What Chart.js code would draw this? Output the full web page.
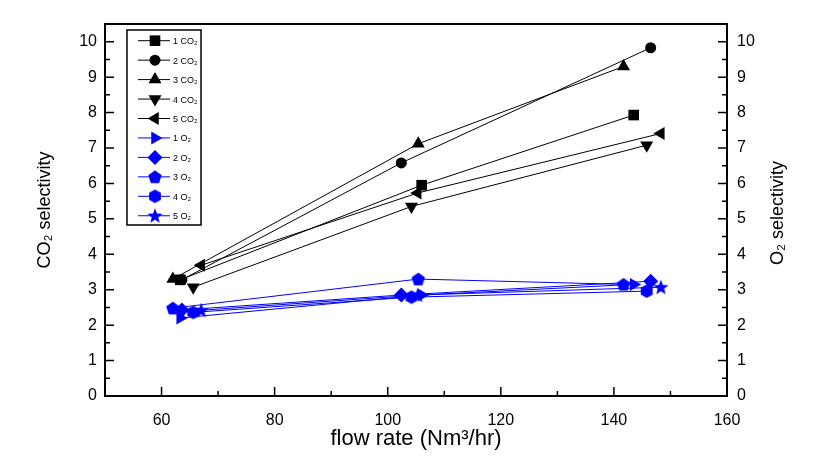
<!DOCTYPE html>
<html>
<head>
<meta charset="utf-8">
<script src="https://cdn.jsdelivr.net/npm/chart.js@4.4.0/dist/chart.umd.min.js"></script>
<style>
    body { margin: 0; background: #fff; }
    #wrap { width: 820px; height: 464px; }
</style>
</head>
<body>
<div id="wrap"><canvas id="grafik" width="820" height="464"></canvas></div>
<script>
// Data dari grafik (flow rate vs selectivity)
var seriesLabelsCO2 = ["1 CO₂", "2 CO₂", "3 CO₂", "4 CO₂", "5 CO₂"];
var seriesLabelsO2 = ["1 O₂", "2 O₂", "3 O₂", "4 O₂", "5 O₂"];

var flow1 = [63.3, 106.0, 143.5];
var flow2 = [63.6, 102.4, 146.5];
var flow3 = [62.0, 105.4, 141.7];
var flow4 = [65.6, 104.2, 145.8];
var flow5 = [67.0, 105.3, 148.3];

var co2Sel1 = [3.28, 5.95, 7.93];
var co2Sel2 = [3.28, 6.58, 9.83];
var co2Sel3 = [3.30, 7.12, 9.30];
var co2Sel4 = [3.07, 5.35, 7.08];
var co2Sel5 = [3.69, 5.73, 7.41];

var o2Sel1 = [2.20, 2.85, 3.15];
var o2Sel2 = [2.43, 2.85, 3.24];
var o2Sel3 = [2.48, 3.30, 3.15];
var o2Sel4 = [2.36, 2.79, 2.96];
var o2Sel5 = [2.42, 2.85, 3.07];

// Tick labels
var xTicks = [60, 80, 100, 120, 140, 160];
var xMinorTicks = [70, 90, 110, 130, 150];
var yTicks = [0, 1, 2, 3, 4, 5, 6, 7, 8, 9, 10];
var yMinorTicks = [0.5, 1.5, 2.5, 3.5, 4.5, 5.5, 6.5, 7.5, 8.5, 9.5];

var fontMain = "'Liberation Sans', Arial, sans-serif";
var fontTitleY = "'Liberation Sans Narrow', " + fontMain;
var rightTitle = "O₂ selectivity";
var blue = "#0000ff";

function toPoints(xs, ys) {
    return xs.map(function (x, i) { return { x: x, y: ys[i] }; });
}

// marker buatan sendiri (pentagon, hexagon, bintang)
function makeMarker(kind, color) {
    var c = document.createElement("canvas");
    c.width = 18;
    c.height = 18;
    var g = c.getContext("2d");
    g.fillStyle = color;
    g.beginPath();
    var i, a, r;
    if (kind === "pentagon") {
        for (i = 0; i < 5; i++) {
            a = -Math.PI / 2 + i * 2 * Math.PI / 5;
            g.lineTo(9 + 7 * Math.cos(a), 9.5 + 7 * Math.sin(a));
        }
    } else if (kind === "hexagon") {
        for (i = 0; i < 6; i++) {
            a = -Math.PI / 2 + i * Math.PI / 3;
            g.lineTo(9 + 6.8 * Math.cos(a), 9 + 6.8 * Math.sin(a));
        }
    } else {
        for (i = 0; i < 10; i++) {
            a = -Math.PI / 2 + i * Math.PI / 5;
            r = (i % 2 === 0) ? 8 : 3.4;
            g.lineTo(9 + r * Math.cos(a), 9.5 + r * Math.sin(a));
        }
    }
    g.closePath();
    g.fill();
    return c;
}

function makeSet(label, xs, ys, color, axis, style, radius, rotation) {
    return {
        label: label,
        data: toPoints(xs, ys),
        yAxisID: axis,
        borderColor: color,
        backgroundColor: color,
        borderWidth: 1,
        pointStyle: style,
        pointRadius: radius,
        pointRotation: rotation,
        pointBorderWidth: 0,
        pointBackgroundColor: color,
        pointBorderColor: color,
        showLine: true,
        tension: 0
    };
}

var datasets = [
    makeSet(seriesLabelsO2[0], flow1, o2Sel1, blue, "y2", "triangle", 7.5, 90),
    makeSet(seriesLabelsO2[1], flow2, o2Sel2, blue, "y2", "rectRot", 7.5, 0),
    makeSet(seriesLabelsO2[2], flow3, o2Sel3, blue, "y2", makeMarker("pentagon", blue), 7, 0),
    makeSet(seriesLabelsO2[3], flow4, o2Sel4, blue, "y2", makeMarker("hexagon", blue), 7, 0),
    makeSet(seriesLabelsO2[4], flow5, o2Sel5, blue, "y2", makeMarker("star", blue), 8, 0),
    makeSet(seriesLabelsCO2[0], flow1, co2Sel1, "#000", "y", "rect", 7.5, 0),
    makeSet(seriesLabelsCO2[1], flow2, co2Sel2, "#000", "y", "circle", 5.5, 0),
    makeSet(seriesLabelsCO2[2], flow3, co2Sel3, "#000", "y", "triangle", 7.5, 0),
    makeSet(seriesLabelsCO2[3], flow4, co2Sel4, "#000", "y", "triangle", 7.5, 180),
    makeSet(seriesLabelsCO2[4], flow5, co2Sel5, "#000", "y", "triangle", 7.5, -90)
];

// urutan legenda: CO2 dulu, lalu O2
var legendOrder = [5, 6, 7, 8, 9, 0, 1, 2, 3, 4];

// Frame, tick ke dalam, judul kanan, dan legenda
var framePlugin = {
    id: "frameTicks",
    afterDraw: function (chart) {
        var ctx = chart.ctx;
        var a = chart.chartArea;
        var sx = chart.scales.x;
        var sy = chart.scales.y;
        ctx.save();
        ctx.strokeStyle = "#000";
        ctx.lineWidth = 2;
        ctx.strokeRect(a.left, a.top, a.right - a.left, a.bottom - a.top);

        ctx.lineWidth = 1.5;
        ctx.beginPath();
        xTicks.forEach(function (v) {
            var px = sx.getPixelForValue(v);
            ctx.moveTo(px, a.bottom);
            ctx.lineTo(px, a.bottom - 9);
        });
        xMinorTicks.forEach(function (v) {
            var px = sx.getPixelForValue(v);
            ctx.moveTo(px, a.bottom);
            ctx.lineTo(px, a.bottom - 5);
        });
        yTicks.forEach(function (v) {
            var py = sy.getPixelForValue(v);
            ctx.moveTo(a.left, py);
            ctx.lineTo(a.left + 9, py);
            ctx.moveTo(a.right, py);
            ctx.lineTo(a.right - 9, py);
        });
        yMinorTicks.forEach(function (v) {
            var py = sy.getPixelForValue(v);
            ctx.moveTo(a.left, py);
            ctx.lineTo(a.left + 5, py);
            ctx.moveTo(a.right, py);
            ctx.lineTo(a.right - 5, py);
        });
        ctx.stroke();

        // judul sumbu kanan, dibaca dari bawah ke atas
        ctx.save();
        ctx.translate(778, (a.top + a.bottom) / 2 + 3);
        ctx.rotate(-Math.PI / 2);
        ctx.font = "18px " + fontTitleY;
        ctx.fillStyle = "#000";
        ctx.textAlign = "center";
        ctx.textBaseline = "middle";
        ctx.fillText(rightTitle, 0, 0);
        ctx.restore();

        // legenda
        var boxX = 127, boxY = 30, boxW = 74, boxH = 195;
        ctx.lineWidth = 1.5;
        ctx.strokeRect(boxX, boxY, boxW, boxH);
        ctx.font = "9px " + fontMain;
        ctx.textBaseline = "middle";
        ctx.textAlign = "left";
        legendOrder.forEach(function (idx, i) {
            var ds = chart.data.datasets[idx];
            var ly = 40.7 + i * 19.45;
            ctx.strokeStyle = ds.borderColor;
            ctx.fillStyle = ds.borderColor;
            ctx.lineWidth = 1;
            ctx.beginPath();
            ctx.moveTo(138, ly);
            ctx.lineTo(170, ly);
            ctx.stroke();
            Chart.helpers.drawPoint(ctx, {
                pointStyle: ds.pointStyle,
                radius: ds.pointRadius,
                rotation: ds.pointRotation,
                borderWidth: 0
            }, 155, ly);
            ctx.fillStyle = "#000";
            ctx.fillText(ds.label, 173, ly + 1);
        });
        ctx.restore();
    }
};

function yAxis(pos, width, titleText, titlePad) {
    return {
        type: "linear",
        position: pos,
        min: 0,
        max: 10.5,
        afterBuildTicks: function (s) {
            s.ticks = yTicks.map(function (v) { return { value: v }; });
        },
        afterFit: function (s) { s.width = width; },
        grid: { display: false, drawTicks: false },
        border: { display: false },
        ticks: {
            padding: pos === "left" ? 8 : 10,
            color: "#000",
            font: { family: fontMain, size: 16 }
        },
        title: {
            display: titleText !== "",
            text: titleText,
            color: "#000",
            font: { family: fontTitleY, size: 18 },
            padding: { top: titlePad, bottom: 0 }
        }
    };
}

var ctxChart = document.getElementById("grafik").getContext("2d");
var myChart = new Chart(ctxChart, {
    type: "scatter",
    data: { datasets: datasets },
    options: {
        responsive: false,
        animation: false,
        layout: { padding: { top: 24, left: 0, right: 0, bottom: 0 } },
        plugins: {
            legend: { display: false },
            tooltip: { enabled: false }
        },
        scales: {
            x: {
                type: "linear",
                position: "bottom",
                min: 50,
                max: 160,
                afterBuildTicks: function (s) {
                    s.ticks = xTicks.map(function (v) { return { value: v }; });
                },
                afterFit: function (s) { s.height = 68; },
                grid: { display: false, drawTicks: false },
                border: { display: false },
                ticks: {
                    padding: 15,
                    color: "#000",
                    autoSkip: false,
                    maxRotation: 0,
                    font: { family: fontMain, size: 16 }
                },
                title: {
                    display: true,
                    text: "flow rate (Nm³/hr)",
                    color: "#000",
                    font: { family: fontMain, size: 22 },
                    padding: { top: 0, bottom: 12 }
                }
            },
            y: yAxis("left", 105, "CO₂ selectivity", 34),
            y2: yAxis("right", 93, "", 0)
        }
    },
    plugins: [framePlugin]
});
</script>
</body>
</html>
